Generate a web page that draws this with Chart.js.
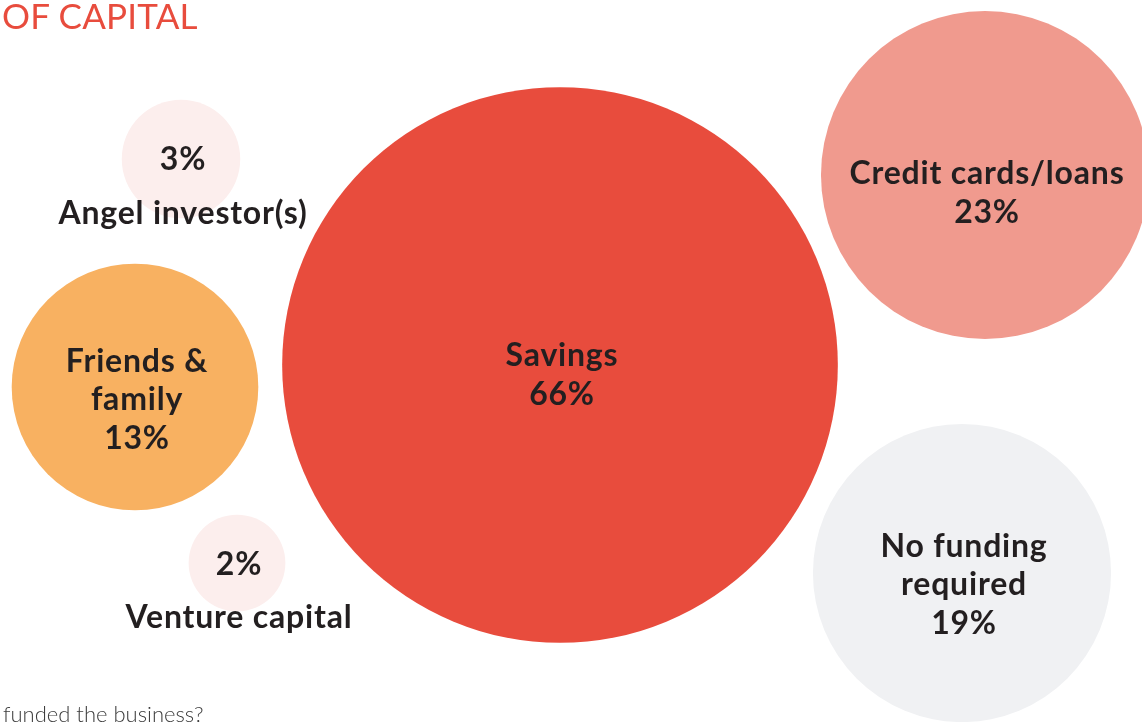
<!DOCTYPE html>
<html>
<head>
<meta charset="utf-8">
<script src="https://cdn.jsdelivr.net/npm/chart.js@4"></script>
<style>
  html, body { margin: 0; padding: 0; background: #ffffff; overflow: hidden; }
  #wrap { position: relative; width: 1142px; height: 722px; overflow: hidden; }
  #chart { position: absolute; left: 0; top: 0; }
  .title {
    position: absolute; left: 2px; top: -7px;
    font-family: "Lato", sans-serif; font-weight: 400;
    font-size: 35px; line-height: 44px; color: #E84C3D; letter-spacing: 0.2px;
  }
  .note {
    position: absolute; left: 3px; top: 701px;
    font-family: "Lato", sans-serif; font-weight: 300;
    font-size: 22px; line-height: 26px; color: #3c3c3c; white-space: nowrap;
  }
</style>
</head>
<body>
<div id="wrap">
  <canvas id="chart" width="1142" height="722"></canvas>
  <div class="title">OF CAPITAL</div>
  <div class="note">funded the business?</div>
</div>
<script>
// Sources of capital and the share of owners using each
const categories = ['Savings', 'Credit cards/loans', 'No funding required', 'Friends & family', 'Angel investor(s)', 'Venture capital'];
const shares = [66, 23, 19, 13, 3, 2];
// Inner label lines for each bubble (name shown below for the small ones)
const innerLines = [['Savings'], ['Credit cards/loans'], ['No funding', 'required'], ['Friends &', 'family'], [], []];
const outerLabels = [null, null, null, null, 'Angel investor(s)', 'Venture capital'];
// Bubble layout coordinates on the hidden 1142 x 722 grid
const bubbleX = [560, 985, 962, 135, 181, 237];
const bubbleY = [365, 175, 573, 387, 159, 563];
const fills = ['#E84C3D', '#F09A8E', '#F0F1F3', '#F8B161', '#FCEEED', '#FCEEED'];

// Area of each bubble is proportional to its share
const RADIUS_PER_ROOT = 34.2;

const labelPlugin = {
  id: 'bubbleLabels',
  afterDatasetsDraw(chart, args, opts) {
    const ctx = chart.ctx;
    const meta = chart.getDatasetMeta(0);
    ctx.save();
    ctx.fillStyle = '#231F20';
    ctx.textAlign = 'center';
    ctx.textBaseline = 'middle';
    ctx.font = '700 32px "Lato", sans-serif';
    if ('letterSpacing' in ctx) ctx.letterSpacing = '0.8px';
    const lh = 38.5;
    meta.data.forEach((el, i) => {
      const lines = innerLines[i].concat([shares[i] + '%']);
      const top = el.y + opts.shift[i] - (lines.length - 1) * lh / 2;
      lines.forEach((t, j) => ctx.fillText(t, el.x + 2, top + j * lh));
      if (outerLabels[i]) {
        ctx.fillText(outerLabels[i], el.x + 2, el.y + 55);
      }
    });
    ctx.restore();
  }
};

new Chart(document.getElementById('chart'), {
  type: 'bubble',
  data: {
    labels: categories,
    datasets: [{
      data: bubbleX.map((x, i) => ({ x: x, y: bubbleY[i] })),
      backgroundColor: fills,
      borderWidth: 0,
      radius: (c) => RADIUS_PER_ROOT * Math.sqrt(shares[c.dataIndex]),
      hoverRadius: 0,
      clip: false
    }]
  },
  options: {
    responsive: false,
    animation: false,
    events: [],
    layout: { padding: 0, autoPadding: false },
    plugins: {
      legend: { display: false },
      tooltip: { enabled: false },
      bubbleLabels: { shift: [10, 18, 12, 13, 1, 2] }
    },
    scales: {
      x: { type: 'linear', min: 0, max: 1142, display: false },
      y: { type: 'linear', min: 0, max: 722, reverse: true, display: false }
    }
  },
  plugins: [labelPlugin]
});
</script>
</body>
</html>
